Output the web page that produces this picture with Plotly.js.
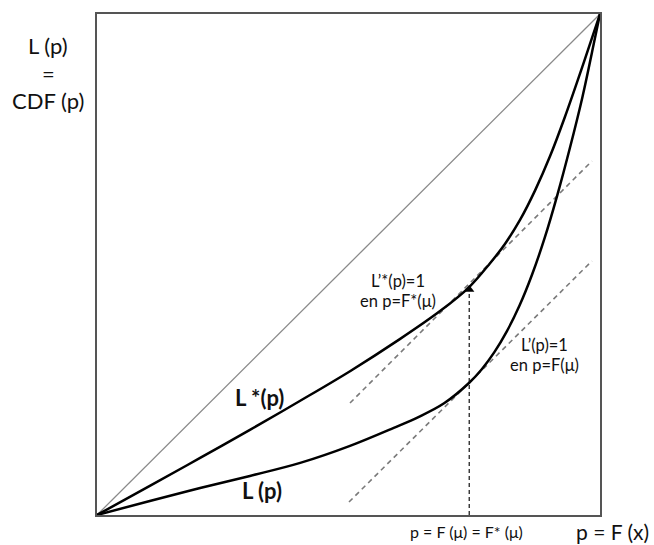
<!DOCTYPE html>
<html>
<head>
<meta charset="utf-8">
<script src="https://cdn.plot.ly/plotly-3.0.1.min.js"></script>
<style>html,body{margin:0;padding:0;background:#fff;}#chart{width:654px;height:545px;}</style>
</head>
<body>
<div id="chart"></div>
<script>
// Diagonal (line of equality)
const diagP = [0, 1];
const diagL = [0, 1];
// L*(p) curve
const lStarP = [0, 0.105, 0.205, 0.304, 0.404, 0.503, 0.602, 0.682, 0.74, 0.781, 0.811, 0.841, 0.871, 0.901, 0.93, 0.966, 1];
const lStarV = [0, 0.058, 0.114, 0.170, 0.228, 0.287, 0.351, 0.407, 0.455, 0.502, 0.541, 0.589, 0.648, 0.717, 0.794, 0.898, 1];
// L(p) curve
const lP = [0, 0.105, 0.205, 0.304, 0.404, 0.503, 0.59, 0.64, 0.69, 0.74, 0.765, 0.79, 0.815, 0.84, 0.865, 0.89, 0.915, 0.94, 0.965, 0.99, 1];
const lV = [0, 0.028, 0.054, 0.078, 0.104, 0.138, 0.174, 0.196, 0.223, 0.264, 0.291, 0.325, 0.367, 0.418, 0.480, 0.553, 0.638, 0.732, 0.834, 0.952, 1];
// Tangent lines (slope 1)
const tanStarP = [0.503, 0.984];
const tanStarV = [0.2236, 0.7066];
const tanP = [0.501, 0.984];
const tanV = [0.026, 0.507];
// Vertical marker at p = F(mu) = F*(mu)
const muP = [0.74, 0.74];
const muV = [0, 0.445];
const arrowP = [0.74];
const arrowV = [0.450];

const FONT = 'Lato, "Open Sans", sans-serif';

const traces = [
  {x: diagP, y: diagL, mode: 'lines', line: {color: '#8a8a8a', width: 1.3}, hoverinfo: 'skip'},
  {x: tanStarP, y: tanStarV, mode: 'lines', line: {color: '#7a7a7a', width: 1.6, dash: '5px,4px'}, hoverinfo: 'skip'},
  {x: tanP, y: tanV, mode: 'lines', line: {color: '#7a7a7a', width: 1.6, dash: '5px,4px'}, hoverinfo: 'skip'},
  {x: lStarP, y: lStarV, mode: 'lines', line: {color: '#000', width: 2.5, shape: 'spline', smoothing: 1}, hoverinfo: 'skip'},
  {x: lP, y: lV, mode: 'lines', line: {color: '#000', width: 2.5, shape: 'spline', smoothing: 1}, hoverinfo: 'skip'},
  {x: muP, y: muV, mode: 'lines', line: {color: '#111', width: 1.2, dash: '4px,3px'}, hoverinfo: 'skip'},
  {x: arrowP, y: arrowV, mode: 'markers', marker: {symbol: 'triangle-up', size: 9, color: '#000'}, hoverinfo: 'skip'}
];

function ann(text, x, y, size, bold) {
  return {
    text: bold ? '<b>' + text + '</b>' : text,
    x: x, y: y, xref: 'paper', yref: 'paper',
    showarrow: false, xanchor: 'center', yanchor: 'middle',
    font: {family: FONT, size: size, color: '#111'}
  };
}

const layout = {
  width: 654, height: 545,
  margin: {l: 97, r: 54, t: 14, b: 30},
  paper_bgcolor: '#fff', plot_bgcolor: '#fff',
  showlegend: false,
  xaxis: {range: [0, 1], showgrid: false, zeroline: false, showticklabels: false, ticks: '',
          showline: true, mirror: true, linecolor: '#555', linewidth: 2, fixedrange: true},
  yaxis: {range: [0, 1], showgrid: false, zeroline: false, showticklabels: false, ticks: '',
          showline: true, mirror: true, linecolor: '#555', linewidth: 2, fixedrange: true},
  annotations: [
    ann('L (p)', -0.0974, 0.938, 22),
    ann('=', -0.0974, 0.882, 22),
    ann('CDF (p)', -0.0974, 0.828, 22),
    ann('p = F (x)', 1.024, -0.032, 21),
    ann('p = F (μ) = F* (μ)', 0.7336, -0.032, 16),
    ann('L’*(p)=1', 0.599, 0.468, 16.5),
    ann('en p=F*(μ)', 0.599, 0.428, 16.5),
    ann('L’(p)=1', 0.889, 0.34, 16.5),
    ann('en p=F(μ)', 0.889, 0.300, 16.5),
    ann('L *(p)', 0.324, 0.235, 22, true),
    ann('L (p)', 0.328, 0.048, 22, true)
  ]
};

Plotly.newPlot('chart', traces, layout, {displayModeBar: false, staticPlot: true});
</script>
</body>
</html>
